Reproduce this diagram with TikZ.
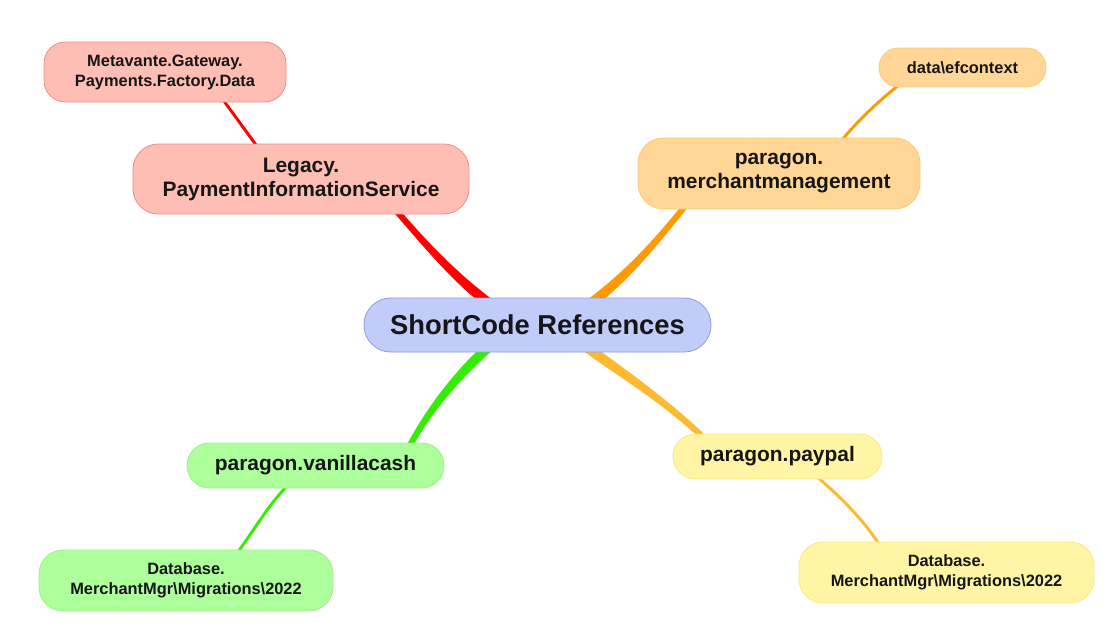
\documentclass[tikz,border=0pt]{standalone}
\usepackage{fontspec}
\setmainfont{Liberation Sans}
\usetikzlibrary{calc,backgrounds}
\definecolor{txt}{HTML}{161616}
\definecolor{rootfill}{HTML}{C2CCFA}
\definecolor{rootdraw}{HTML}{8A9CEB}
\definecolor{redfill}{HTML}{FFBEB4}
\definecolor{reddraw}{HTML}{F08C84}
\definecolor{redline}{HTML}{FF0000}
\definecolor{orafill}{HTML}{FFD695}
\definecolor{oradraw}{HTML}{FFC870}
\definecolor{oraline}{HTML}{FF9900}
\definecolor{grefill}{HTML}{ADFF9B}
\definecolor{gredraw}{HTML}{9BF088}
\definecolor{greline}{HTML}{33EE00}
\definecolor{yelfill}{HTML}{FFF5A5}
\definecolor{yeldraw}{HTML}{FCE67C}
\definecolor{yelline}{HTML}{FBBA30}
\newcommand\fbig{\fontsize{20.5}{24}\selectfont\bfseries}
\newcommand\fmid{\fontsize{15.7}{18}\selectfont\bfseries}
\newcommand\fsmall{\fontsize{12.3}{15}\selectfont\bfseries}
\begin{document}
\begin{tikzpicture}[x=0.75pt,y=-0.75pt,
  pill/.style={inner sep=0pt, align=center, text=txt, line width=0.6pt},
  rootbox/.style={pill, fill=rootfill, draw=rootdraw, font=\fbig, rounded corners=20pt},
  redbox/.style={pill, fill=redfill, draw=reddraw},
  orabox/.style={pill, fill=orafill, draw=oradraw},
  grebox/.style={pill, fill=grefill, draw=gredraw},
  yelbox/.style={pill, fill=yelfill, draw=yeldraw},
  mainbox/.style={font=\fmid},
  subbox/.style={font=\fsmall},
  subline/.style={line width=2.2pt, line cap=round}
]
\useasboundingbox (0,0) rectangle (1120,643);

% nodes
\node[rootbox, minimum width=260.25pt, minimum height=40.5pt] (root) at (537.5,325) {ShortCode References};
\node[redbox, mainbox, minimum width=252pt, minimum height=52.5pt, rounded corners=19pt] (legacy) at (301,179) {Legacy.\\PaymentInformationService};
\node[redbox, subbox, minimum width=181.5pt, minimum height=45pt, rounded corners=16pt] (meta) at (165,72) {Metavante.Gateway.\\Payments.Factory.Data};
\node[orabox, mainbox, minimum width=211.5pt, minimum height=53.25pt, rounded corners=19pt] (merch) at (779,173.5) {paragon.\\merchantmanagement};
\node[orabox, subbox, minimum width=125.25pt, minimum height=29.25pt, rounded corners=14.5pt] (dataef) at (962.5,67.5) {data\textbackslash efcontext};
\node[grebox, mainbox, minimum width=192.75pt, minimum height=33.75pt, rounded corners=16.8pt] (vanilla) at (315.5,465.5) {paragon.vanillacash};
\node[grebox, subbox, minimum width=220.5pt, minimum height=45.75pt, rounded corners=18pt] (dbg) at (186,580.5) {Database.\\MerchantMgr\textbackslash Migrations\textbackslash 2022};
\node[yelbox, mainbox, minimum width=156.75pt, minimum height=33.75pt, rounded corners=16.8pt] (paypal) at (777.5,456.5) {paragon.paypal};
\node[yelbox, subbox, minimum width=221.25pt, minimum height=45.75pt, rounded corners=18pt] (dby) at (946.5,572.5) {Database.\\MerchantMgr\textbackslash Migrations\textbackslash 2022};

\begin{scope}[on background layer]
% main tapered branches
\fill[redline] ($(root)+(-44.5,-25)$) .. controls (461,276) and (432.3,248) .. ($(legacy)+(95.3,27)$)
  -- ($(legacy)+(90.7,31)$) .. controls (428,252) and (455,284) .. ($(root)+(-50.5,-17)$) -- cycle;
\fill[oraline] ($(root)+(55.5,-17)$) .. controls (625,284) and (652.3,251.9) .. ($(merch)+(-90.7,33.4)$)
  -- ($(merch)+(-95.3,29.6)$) .. controls (647.7,248.1) and (619,276) .. ($(root)+(49.5,-25)$) -- cycle;
\fill[greline] ($(root)+(-44.25,24.75)$) .. controls (463.25,375.75) and (430.7,411.4) .. ($(vanilla)+(94.2,-13.1)$)
  -- ($(vanilla)+(88.8,-15.9)$) .. controls (425.3,408.6) and (456.75,368.25) .. ($(root)+(-50.75,17.25)$) -- cycle;
\fill[yelline] ($(root)+(44.5,25)$) .. controls (617,376) and (662.9,402.15) .. ($(paypal)+(-71.6,-12.35)$)
  -- ($(paypal)+(-67.4,-16.65)$) .. controls (667.1,397.85) and (623,368) .. ($(root)+(50.5,17)$) -- cycle;
% sub branches
\draw[subline, redline] ($(meta)+(56,25)$) -- ($(legacy)+(-42,-30)$);
\draw[subline, oraline] ($(dataef)+(-63,17)$) .. controls (880,100) and (858,120) .. ($(merch)+(60,-30)$);
\draw[subline, greline] ($(vanilla)+(-27,19)$) .. controls (268,505) and (253,532) .. ($(dbg)+(50,-26)$);
\draw[subline, yelline] ($(paypal)+(39,20)$) .. controls (835,492) and (862,517) .. ($(dby)+(-66,-26)$);
\end{scope}
\end{tikzpicture}
\end{document}
